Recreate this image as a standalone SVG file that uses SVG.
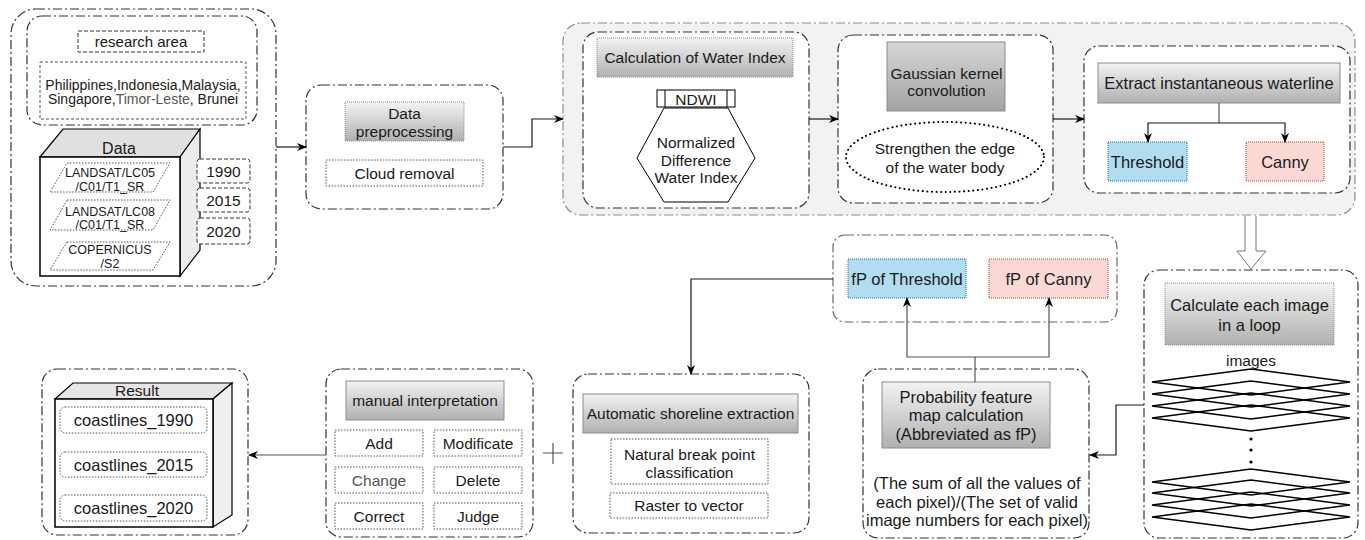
<svg xmlns="http://www.w3.org/2000/svg" width="1365" height="540" viewBox="0 0 1365 540">
<style>
.box{fill:#fff;stroke:#333;stroke-width:1.2;stroke-dasharray:9 3 2 3}
.panel{fill:#f2f2f2;stroke:#8c8c8c;stroke-width:1.2;stroke-dasharray:9 3 2 3}
.hdr{fill:url(#g1);stroke:#8c8c8c;stroke-width:1;stroke-dasharray:1 1}
.hdrs{fill:url(#g1);stroke:#8c8c8c;stroke-width:1}
.dot{fill:#fff;stroke:#444;stroke-width:0.9;stroke-dasharray:1.5 1.5}
.dash{fill:#fff;stroke:#333;stroke-width:1;stroke-dasharray:4 2}
.blue{fill:#b1ddf0;stroke:#10739e;stroke-width:1;stroke-dasharray:1 1}
.pink{fill:#fad9d5;stroke:#ae4132;stroke-width:1;stroke-dasharray:1 1}
.t{font-family:"Liberation Sans",Arial,sans-serif;fill:#1a1a1a;text-anchor:middle;font-size:15.5px}
.l{font-size:16.5px}
.s{font-size:14px}
.xs{font-size:12.5px}
.ln{fill:none;stroke:#1a1a1a;stroke-width:1.2}
.lg{fill:none;stroke:#555;stroke-width:1.2}
.dm{fill:none;stroke:#000;stroke-width:1.5}
</style>
<defs>
<linearGradient id="g1" x1="0" y1="0" x2="0" y2="1"><stop offset="0" stop-color="#f3f3f3"/><stop offset="1" stop-color="#b0b0b0"/></linearGradient>
<linearGradient id="g2" x1="0" y1="0" x2="0" y2="1"><stop offset="0" stop-color="#d6d6d6"/><stop offset="1" stop-color="#a3a3a3"/></linearGradient>
<marker id="ah" viewBox="0 0 10 8" refX="9" refY="4" markerWidth="10" markerHeight="8" orient="auto" markerUnits="userSpaceOnUse"><path d="M0,0 L10,4 L0,8 L3,4 z" fill="#000"/></marker>
</defs>

<g id="input">
<rect class="box" x="11" y="9" width="265" height="277" rx="25"/>
<rect class="box" x="27" y="16" width="230" height="109" rx="15"/>
<rect class="dash" x="78" y="31" width="126" height="21"/>
<text class="t" x="141" y="47" style="font-size:15px">research area</text>
<rect class="dash" x="40" y="62" width="206" height="57" style="stroke:#555;stroke-dasharray:3 2"/>
<text class="t s" x="143" y="90">Philippines,Indonesia,Malaysia,</text>
<text class="t s" x="143" y="104">Singapore,<tspan fill="#555">Timor-Leste</tspan>, Brunei</text>
<g id="data-cube">
<polygon points="40,157 63,129 200,129 180,157" fill="#e0e0e0" stroke="#000" stroke-width="1.2"/>
<polygon points="180,157 200,129 200,250 180,276" fill="#ececec" stroke="#000" stroke-width="1.2"/>
<rect x="40" y="157" width="140" height="119" fill="#fff" stroke="#000" stroke-width="1.5"/>
<text class="t" x="119" y="154" style="font-size:16px">Data</text>
<polygon class="dot" points="67,163 170,163 153,192 50,192"/>
<text class="t xs" x="110" y="176.5">LANDSAT/LC05</text>
<text class="t xs" x="110" y="190.5">/C01/T1_SR</text>
<polygon class="dot" points="67,200 170,200 153,230 50,230"/>
<text class="t xs" x="110" y="215.5">LANDSAT/LC08</text>
<text class="t xs" x="110" y="228.5">/C01/T1_SR</text>
<polygon class="dot" points="67,242 170,242 153,270 50,270"/>
<text class="t xs" x="110" y="253.5">COPERNICUS</text>
<text class="t xs" x="110" y="267.5">/S2</text>
</g>
<rect class="dash" x="197" y="159" width="53" height="24" rx="3"/>
<text class="t" x="223.5" y="177">1990</text>
<rect class="dash" x="197" y="188" width="53" height="24" rx="3"/>
<text class="t" x="223.5" y="206">2015</text>
<rect class="dash" x="197" y="218" width="53" height="26" rx="3"/>
<text class="t" x="223.5" y="237">2020</text>
</g>

<g id="preprocess">
<rect class="box" x="306" y="85" width="197" height="124" rx="15"/>
<rect class="hdr" x="345" y="102" width="119" height="39"/>
<text class="t" x="404.5" y="118.5">Data</text>
<text class="t" x="404.5" y="137">preprocessing</text>
<rect class="dot" x="326" y="160" width="157" height="26"/>
<text class="t" x="404.5" y="178.5">Cloud removal</text>
</g>

<g id="processing-panel">
<rect class="panel" x="563" y="23" width="792" height="192" rx="18"/>
</g>

<g id="water-index">
<rect class="box" x="583" y="32" width="226" height="176" rx="15"/>
<rect class="hdr" x="597" y="38" width="196" height="39"/>
<text class="t" x="695" y="62.5">Calculation of Water Index</text>
<rect x="657" y="90" width="78" height="17" fill="#fff" stroke="#000" stroke-width="1"/>
<line x1="665" y1="90" x2="665" y2="107" stroke="#000" stroke-width="1"/>
<line x1="727" y1="90" x2="727" y2="107" stroke="#000" stroke-width="1"/>
<text class="t" x="696" y="104.5">NDWI</text>
<polygon points="664,108 728,108 755,158 728,202 664,202 637,158" fill="#fff" stroke="#000" stroke-width="1"/>
<text class="t" x="696" y="147.5">Normalized</text>
<text class="t" x="696" y="165.5">Difference</text>
<text class="t" x="696" y="183">Water Index</text>
</g>

<g id="gaussian">
<rect class="box" x="838" y="35" width="215" height="168" rx="15"/>
<rect x="887" y="42" width="118" height="69" fill="url(#g2)" stroke="#8c8c8c" stroke-width="1"/>
<text class="t" x="946.5" y="78.5">Gaussian kernel</text>
<text class="t" x="946.5" y="95.5">convolution</text>
<ellipse cx="945" cy="157" rx="99" ry="35" fill="#fff" stroke="#000" stroke-width="2" stroke-dasharray="0.1 4.5" stroke-linecap="round"/>
<text class="t" x="945" y="153.5">Strengthen the edge</text>
<text class="t" x="945" y="172.5">of the water body</text>
</g>

<g id="extract">
<rect class="box" x="1084" y="46" width="266" height="147" rx="15"/>
<rect class="hdrs" x="1098" y="63" width="242" height="40"/>
<text class="t l" x="1219" y="89">Extract instantaneous waterline</text>
<rect class="blue" x="1108" y="142" width="79" height="39"/>
<text class="t l" x="1147.5" y="168">Threshold</text>
<rect class="pink" x="1246" y="142" width="78" height="39"/>
<text class="t l" x="1285" y="168">Canny</text>
</g>

<g id="loop">
<rect class="box" x="1144" y="270" width="214" height="268" rx="15"/>
<rect class="hdr" x="1165" y="283" width="169" height="62"/>
<text class="t l" x="1249.5" y="311">Calculate each image</text>
<text class="t l" x="1249.5" y="331">in a loop</text>
<text class="t" x="1251" y="365.5">images</text>
<polygon class="dm" points="1152,382 1251,369 1350,382 1251,395"/>
<polygon class="dm" points="1152,394 1251,381 1350,394 1251,407"/>
<polygon class="dm" points="1152,406 1251,393 1350,406 1251,419"/>
<polygon class="dm" points="1152,418 1251,405 1350,418 1251,431"/>
<circle cx="1251" cy="439" r="1.6" fill="#000"/>
<circle cx="1251" cy="450" r="1.6" fill="#000"/>
<circle cx="1251" cy="462" r="1.6" fill="#000"/>
<polygon class="dm" points="1152,482 1251,469 1350,482 1251,495"/>
<polygon class="dm" points="1152,493 1251,480 1350,493 1251,506"/>
<polygon class="dm" points="1152,505 1251,492 1350,505 1251,518"/>
<polygon class="dm" points="1152,517 1251,504 1350,517 1251,530"/>
</g>

<g id="fp">
<rect class="box" x="833" y="235" width="284" height="87" rx="12" style="stroke:#666"/>
<rect class="blue" x="848" y="259" width="118" height="39"/>
<text class="t l" x="907" y="285">fP of Threshold</text>
<rect class="pink" x="989" y="259" width="119" height="39"/>
<text class="t l" x="1048.5" y="285">fP of Canny</text>
</g>

<g id="probability">
<rect class="box" x="863" y="369" width="226" height="169" rx="15"/>
<rect class="hdrs" x="882" y="382" width="168" height="66"/>
<text class="t l" x="966" y="403">Probability feature</text>
<text class="t l" x="966" y="421">map calculation</text>
<text class="t l" x="966" y="440">(Abbreviated as fP)</text>
<text class="t l" x="977" y="489">(The sum of all the values of</text>
<text class="t l" x="977" y="508">each pixel)/(The set of valid</text>
<text class="t l" x="977" y="526">image numbers for each pixel)</text>
</g>

<g id="automatic">
<rect class="box" x="573" y="374" width="236" height="159" rx="15"/>
<rect class="hdrs" x="583" y="394" width="215" height="39"/>
<text class="t" x="690.5" y="418.5">Automatic shoreline extraction</text>
<rect class="dot" x="611" y="439" width="157" height="45"/>
<text class="t" x="689.5" y="459.5">Natural break point</text>
<text class="t" x="689.5" y="477.5">classification</text>
<rect class="dot" x="610" y="493" width="158" height="25"/>
<text class="t" x="689" y="510.5">Raster to vector</text>
</g>

<g id="manual">
<rect class="box" x="326" y="369" width="207" height="168" rx="15"/>
<rect class="hdrs" x="346" y="381" width="158" height="39"/>
<text class="t" x="425" y="405.5">manual interpretation</text>
<rect class="dot" x="335" y="430" width="88" height="26"/>
<text class="t" x="379" y="448.5">Add</text>
<rect class="dot" x="434" y="430" width="88" height="26"/>
<text class="t" x="478" y="448.5">Modificate</text>
<rect class="dot" x="335" y="467" width="88" height="26"/>
<text class="t" x="379" y="485.5" style="fill:#555">Change</text>
<rect class="dot" x="434" y="467" width="88" height="26"/>
<text class="t" x="478" y="485.5">Delete</text>
<rect class="dot" x="335" y="503" width="88" height="26"/>
<text class="t" x="379" y="521.5">Correct</text>
<rect class="dot" x="434" y="503" width="88" height="26"/>
<text class="t" x="478" y="521.5">Judge</text>
</g>

<g id="result">
<rect class="box" x="42" y="369" width="206" height="166" rx="15"/>
<polygon points="55,399 73,383 232,383 213,399" fill="#e6e6e6" stroke="#000" stroke-width="1.2"/>
<polygon points="213,399 232,383 232,515 213,527" fill="#efefef" stroke="#000" stroke-width="1.2"/>
<rect x="55" y="399" width="158" height="128" fill="#fff" stroke="#000" stroke-width="1.5"/>
<text class="t" x="137" y="396">Result</text>
<rect class="dot" x="60" y="407" width="147" height="26" rx="5"/>
<text class="t l" x="133.5" y="426">coastlines_1990</text>
<rect class="dot" x="60" y="452" width="147" height="25" rx="5"/>
<text class="t l" x="133.5" y="471">coastlines_2015</text>
<rect class="dot" x="60" y="495" width="147" height="26" rx="5"/>
<text class="t l" x="133.5" y="514">coastlines_2020</text>
</g>

<g id="connectors">
<path class="ln" d="M276,147 L306,147" marker-end="url(#ah)"/>
<path class="ln" d="M503,147 L532,147 L532,119 L563,119" marker-end="url(#ah)"/>
<path class="ln" d="M809,119 L838,119" marker-end="url(#ah)"/>
<path class="ln" d="M1053,119 L1084,119" marker-end="url(#ah)"/>
<path class="lg" d="M1219,103 L1219,123"/>
<path class="ln" d="M1219,123 L1148,123 L1148,142" marker-end="url(#ah)"/>
<path class="ln" d="M1219,123 L1285,123 L1285,142" marker-end="url(#ah)"/>
<path d="M1245,216 L1245,251 L1237,251 L1251,269 L1266,251 L1256,251 L1256,216" fill="#fff" stroke="#777" stroke-width="1"/>
<path class="ln" d="M1144,405 L1116,405 L1116,455 L1090,455" marker-end="url(#ah)"/>
<path class="lg" d="M975,382 L975,357"/>
<path class="lg" d="M975,357 L907,357 L907,298" marker-end="url(#ah)"/>
<path class="lg" d="M975,357 L1049,357 L1049,298" marker-end="url(#ah)"/>
<path class="ln" d="M833,279 L691,279 L691,374" marker-end="url(#ah)"/>
<path class="lg" d="M326,455 L249,455" marker-end="url(#ah)"/>
<path class="lg" d="M543,453 L563,453 M553,443 L553,464"/>
</g>
</svg>
